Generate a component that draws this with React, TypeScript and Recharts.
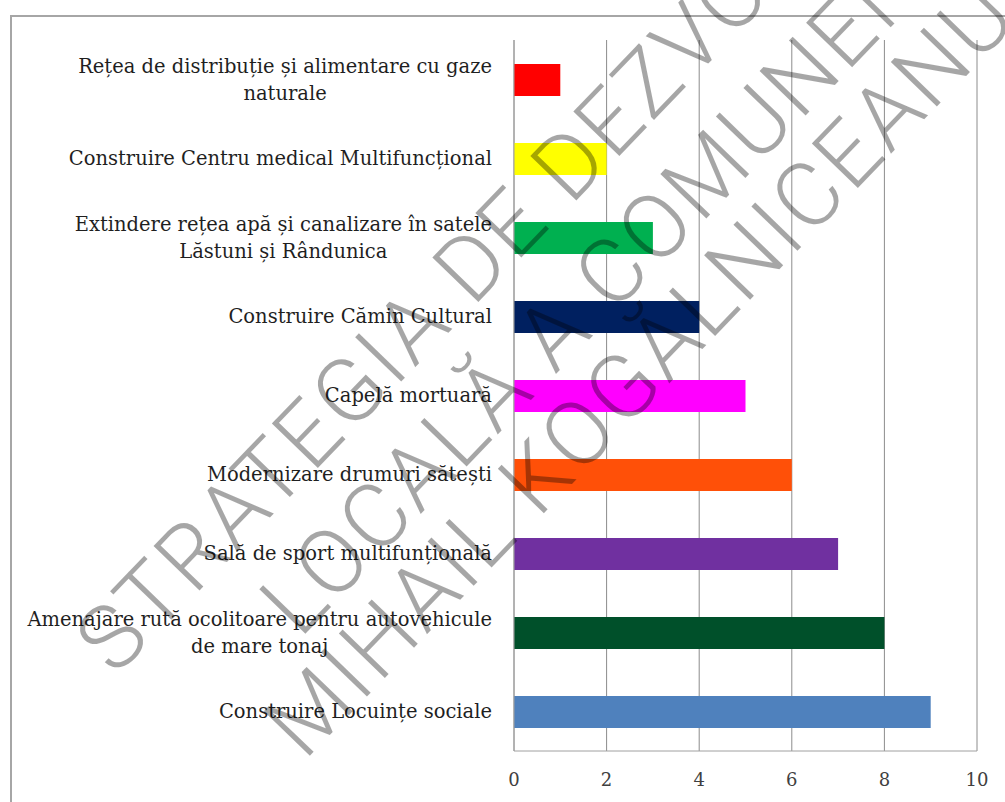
import { BarChart, Bar, XAxis, YAxis, CartesianGrid, Cell } from "recharts";

const categories = [
  "Rețea de distribuție și alimentare cu gaze\nnaturale",
  "Construire Centru medical Multifuncțional",
  "Extindere rețea apă și canalizare în satele\nLăstuni și Rândunica",
  "Construire Cămin Cultural",
  "Capelă mortuară",
  "Modernizare drumuri sătești",
  "Sală de sport multifunțională",
  "Amenajare rută ocolitoare pentru autovehicule\nde mare tonaj",
  "Construire Locuințe sociale",
];
const values = [1, 2, 3, 4, 5, 6, 7, 8, 9];
const barColors = ["#ff0000", "#ffff00", "#00b050", "#002060", "#ff00ff", "#ff5008", "#7030a0", "#00502a", "#4f81bd"];
const xTicks = [0, 2, 4, 6, 8, 10];
const watermark = ["STRATEGIA DE DEZVOLTARE", "LOCALĂ A COMUNEI", "MIHAIL KOGĂLNICEANU"];

const data = categories.map((name, i) => ({ name, value: values[i] }));

const LABEL_FONT = 19.5;
const LABEL_FAMILY = '"DejaVu Serif", serif';

let ctx: CanvasRenderingContext2D | null = null;
function textWidth(s: string) {
  if (!ctx) ctx = document.createElement("canvas").getContext("2d");
  if (!ctx) return s.length * LABEL_FONT * 0.55;
  ctx.font = `${LABEL_FONT}px ${LABEL_FAMILY}`;
  return ctx.measureText(s).width;
}

function CategoryTick(props: any) {
  const { x, y, payload } = props;
  const lines: string[] = String(payload.value).split("\n");
  const maxW = Math.max(...lines.map(textWidth));
  const cx = x - maxW / 2;
  const lh = 27;
  return (
    <g>
      {lines.map((l, i) => (
        <text
          key={i}
          x={cx}
          y={y + (i - (lines.length - 1) / 2) * lh}
          dy="0.35em"
          textAnchor="middle"
          fontFamily={LABEL_FAMILY}
          fontSize={LABEL_FONT}
          fill="#1f1f1f"
        >
          {l}
        </text>
      ))}
    </g>
  );
}

// watermark line placement in the rotated frame
const wmX = [92, 74, 71];
const wmY = [-120, -14, 74];

export default function App() {
  return (
    <div style={{ position: "fixed", left: 0, top: 0, width: 1005, height: 802, overflow: "hidden", background: "#fff" }}>
      <div style={{ position: "absolute", left: 10, top: 15, width: 1010, height: 810, borderTop: "2px solid #a6a6a6", borderLeft: "2px solid #a6a6a6" }} />
      <div style={{ position: "absolute", left: 0, top: 0 }}>
        <BarChart width={1005} height={802} data={data} layout="vertical" margin={{ top: 40, right: 28, bottom: 21, left: 10 }}>
          <CartesianGrid horizontal={false} stroke="#8c8c8c" />
          <XAxis
            type="number"
            domain={[0, 10]}
            ticks={xTicks}
            axisLine={{ stroke: "#a0a0a0" }}
            tickLine={false}
            tickMargin={16}
            tick={{ fill: "#404040", fontSize: 18, fontFamily: LABEL_FAMILY }}
          />
          <YAxis
            type="category"
            dataKey="name"
            width={504}
            axisLine={{ stroke: "#a0a0a0" }}
            tickLine={false}
            tickMargin={16}
            tick={<CategoryTick />}
            interval={0}
          />
          <Bar dataKey="value" barSize={32} isAnimationActive={false}>
            {data.map((d, i) => (
              <Cell key={d.name} fill={barColors[i]} />
            ))}
          </Bar>
        </BarChart>
      </div>
      <svg width={1005} height={802} style={{ position: "absolute", left: 0, top: 0, pointerEvents: "none" }}>
        <g transform="translate(560,390) rotate(-46)">
          {watermark.map((w, i) => (
            <text
              key={w}
              x={wmX[i]}
              y={wmY[i]}
              textAnchor="middle"
              fontFamily="Roboto, sans-serif"
              fontWeight={300}
              fontSize={90}
              letterSpacing={3}
              fill="rgba(0,0,0,0.35)"
            >
              {w}
            </text>
          ))}
        </g>
      </svg>
    </div>
  );
}
